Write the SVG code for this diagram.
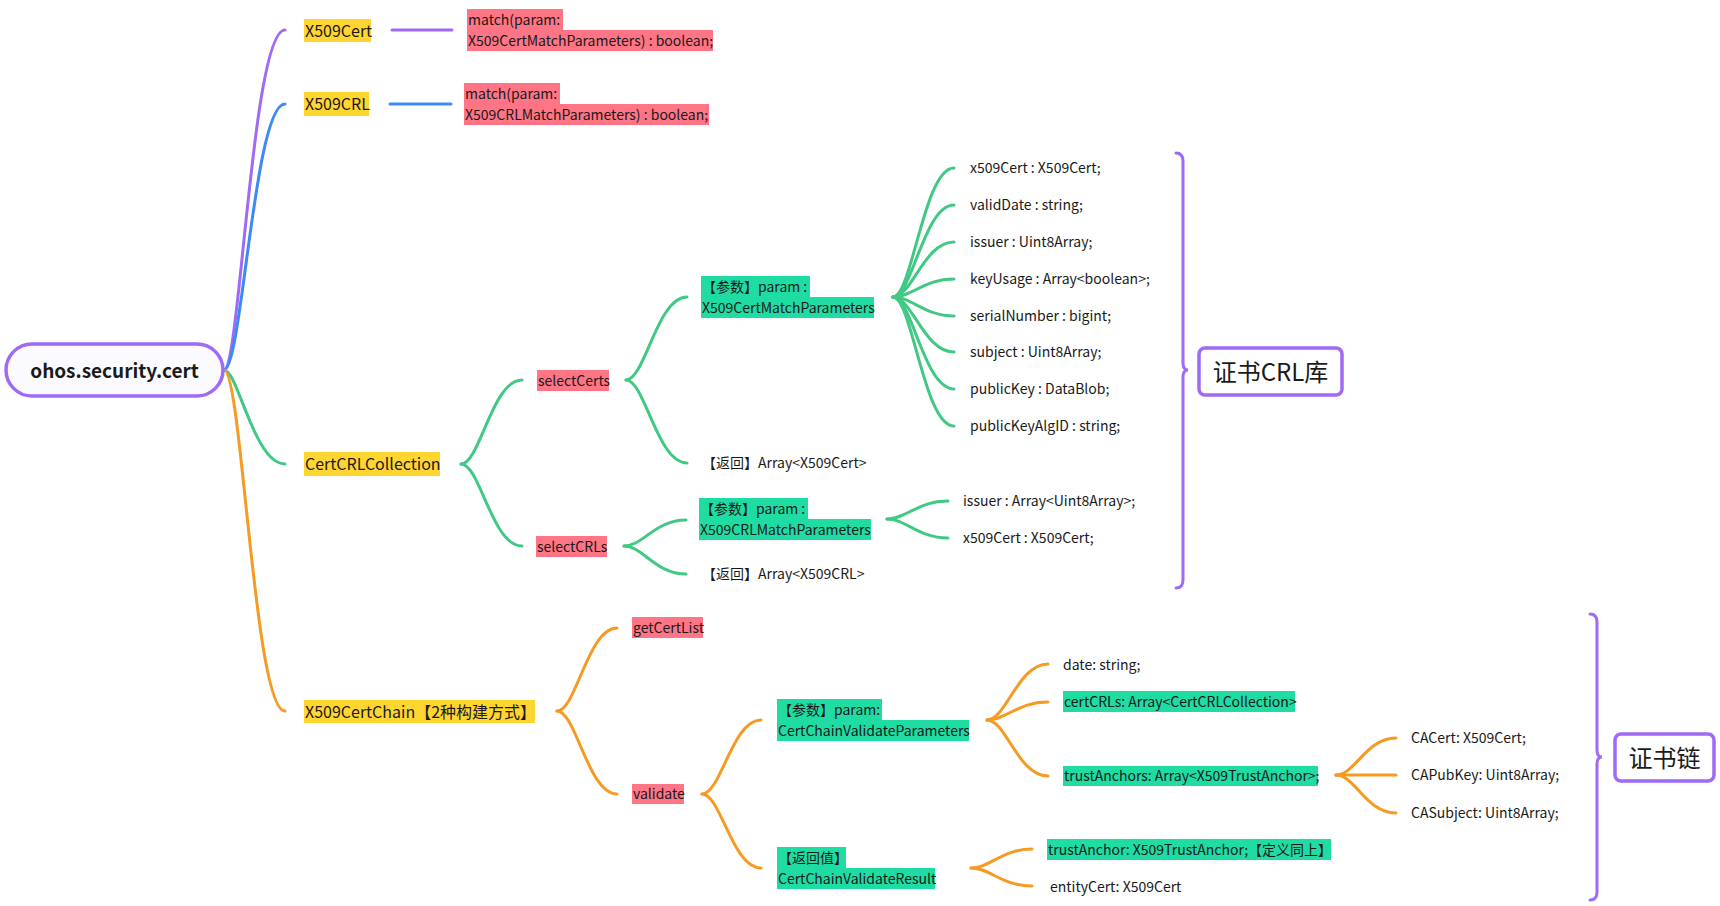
<svg xmlns="http://www.w3.org/2000/svg" width="1720" height="906" viewBox="0 0 1720 906">
<style>
text{font-family:"Noto Sans CJK SC","Noto Sans",sans-serif;fill:#1a1a1a;dominant-baseline:central}
.t1{font-size:16px}
.t2{font-size:14px}
.t3{font-size:14px}
.root{font-size:19px;font-weight:600}
.big{font-size:24px}
.y{fill:#ffd531}
.p{fill:#ff7585}
.g{fill:#1edca2}
.c{fill:none;stroke-width:3;stroke-linecap:round}
.pu{stroke:#9f6af5}
.bl{stroke:#3d8af7}
.gr{stroke:#40c983}
.or{stroke:#f59b23}
.box{fill:#fff;stroke:#9f6af5;stroke-width:3.5}
</style>
<rect width="1720" height="906" fill="#fff"/>
<g id="connectors">
<path class="c pu" d="M224,370 C240,370 252,30 285,30"/>
<path class="c bl" d="M224,370 C242,370 254,104 285,104"/>
<path class="c gr" d="M224,370 C238,370 254,464 285,464"/>
<path class="c or" d="M224,370 C242,370 254,711 285,711"/>
<path class="c pu" d="M392,30 L452,30"/>
<path class="c bl" d="M390,104 L451,104"/>
<path class="c gr" d="M461,464 C480,464 492,380 522,380"/>
<path class="c gr" d="M461,464 C480,464 492,546 522,546"/>
<path class="c gr" d="M626,380 C645,380 657,297 687,297"/>
<path class="c gr" d="M626,380 C645,380 657,463 687,463"/>
<path class="c gr" d="M893,297 C912,297 924,168 954,168"/>
<path class="c gr" d="M893,297 C912,297 924,205 954,205"/>
<path class="c gr" d="M893,297 C912,297 924,242 954,242"/>
<path class="c gr" d="M893,297 C912,297 924,279 954,279"/>
<path class="c gr" d="M893,297 C912,297 924,316 954,316"/>
<path class="c gr" d="M893,297 C912,297 924,352 954,352"/>
<path class="c gr" d="M893,297 C912,297 924,389 954,389"/>
<path class="c gr" d="M893,297 C912,297 924,426 954,426"/>
<path class="c gr" d="M624,546 C643,546 655,520 686,520"/>
<path class="c gr" d="M624,546 C643,546 655,574 686,574"/>
<path class="c gr" d="M887,519 C906,519 918,501 948,501"/>
<path class="c gr" d="M887,519 C906,519 918,538 948,538"/>
<path class="c or" d="M557,711 C576,711 588,628 617,628"/>
<path class="c or" d="M557,711 C576,711 588,794 617,794"/>
<path class="c or" d="M702,794 C721,794 732,720 761,720"/>
<path class="c or" d="M702,794 C721,794 732,868 761,868"/>
<path class="c or" d="M987,720 C1006,720 1018,664 1048,664"/>
<path class="c or" d="M987,720 C1006,720 1018,702 1048,702"/>
<path class="c or" d="M987,720 C1006,720 1018,776 1048,776"/>
<path class="c or" d="M1336,775 C1355,775 1366,738 1396,738"/>
<path class="c or" d="M1336,775 L1396,775"/>
<path class="c or" d="M1336,775 C1355,775 1366,813 1396,813"/>
<path class="c or" d="M971,868 C990,868 1002,849 1032,849"/>
<path class="c or" d="M971,868 C990,868 1002,886 1032,886"/>
<path class="c pu" d="M1176,153 Q1183,153 1183,161 L1183,363 Q1183,370 1188,370 Q1183,370 1183,377 L1183,580 Q1183,588 1176,588"/>
<path class="c pu" d="M1590,614 Q1597,614 1597,622 L1597,750 Q1597,757 1602,757 Q1597,757 1597,764 L1597,892 Q1597,900 1590,900"/>
</g>
<g id="root">
<rect x="6" y="344" width="217" height="52" rx="26" fill="#fbfbff" stroke="#9f6af5" stroke-width="3.5"/>
<text class="root" x="114.5" y="369" text-anchor="middle">ohos.security.cert</text>
</g>
<g id="n-x509cert">
<rect class="y" x="304" y="19" width="67" height="23"/>
<text class="t1" x="305" y="29.5">X509Cert</text>
</g>
<g id="n-x509cert-match">
<rect class="p" x="467" y="9" width="96" height="21"/>
<rect class="p" x="467" y="30" width="246" height="21"/>
<text class="t2" x="468" y="18.5">match(param:</text>
<text class="t2" x="468" y="39.5">X509CertMatchParameters) : boolean;</text>
</g>
<g id="n-x509crl">
<rect class="y" x="304" y="92" width="65" height="24"/>
<text class="t1" x="305" y="103">X509CRL</text>
</g>
<g id="n-x509crl-match">
<rect class="p" x="464" y="83" width="96" height="21"/>
<rect class="p" x="464" y="104" width="245" height="21"/>
<text class="t2" x="465" y="92.5">match(param:</text>
<text class="t2" x="465" y="113.5">X509CRLMatchParameters) : boolean;</text>
</g>
<g id="n-certcrlcollection">
<rect class="y" x="304" y="452" width="136" height="24"/>
<text class="t1" x="305" y="463">CertCRLCollection</text>
</g>
<g id="n-selectcerts">
<rect class="p" x="537" y="370" width="72" height="21"/>
<text class="t2" x="538" y="379.5">selectCerts</text>
</g>
<g id="n-certmatchparam">
<rect class="g" x="701" y="276" width="109" height="21"/>
<rect class="g" x="701" y="297" width="173" height="21"/>
<text class="t2" x="702" y="285.5">【参数】param :</text>
<text class="t2" x="702" y="306.5">X509CertMatchParameters</text>
</g>
<g id="n-certfields">
<text class="t3" x="970" y="167">x509Cert : X509Cert;</text>
<text class="t3" x="970" y="204">validDate : string;</text>
<text class="t3" x="970" y="241">issuer : Uint8Array;</text>
<text class="t3" x="970" y="278">keyUsage : Array&lt;boolean&gt;;</text>
<text class="t3" x="970" y="315">serialNumber : bigint;</text>
<text class="t3" x="970" y="351">subject : Uint8Array;</text>
<text class="t3" x="970" y="388">publicKey : DataBlob;</text>
<text class="t3" x="970" y="425">publicKeyAlgID : string;</text>
</g>
<g id="n-certreturn">
<text class="t2" x="702" y="462">【返回】Array&lt;X509Cert&gt;</text>
</g>
<g id="n-selectcrls">
<rect class="p" x="536" y="536" width="71" height="21"/>
<text class="t2" x="537" y="545.5">selectCRLs</text>
</g>
<g id="n-crlmatchparam">
<rect class="g" x="699" y="498" width="109" height="21"/>
<rect class="g" x="699" y="519" width="172" height="21"/>
<text class="t2" x="700" y="507.5">【参数】param :</text>
<text class="t2" x="700" y="528.5">X509CRLMatchParameters</text>
</g>
<g id="n-crlfields">
<text class="t3" x="963" y="500">issuer : Array&lt;Uint8Array&gt;;</text>
<text class="t3" x="963" y="537">x509Cert : X509Cert;</text>
</g>
<g id="n-crlreturn">
<text class="t2" x="702" y="573">【返回】Array&lt;X509CRL&gt;</text>
</g>
<g id="n-summary-crl">
<rect class="box" x="1199" y="348" width="143" height="47" rx="6"/>
<text class="big" x="1270.5" y="370.5" text-anchor="middle">证书CRL库</text>
</g>
<g id="n-certchain">
<rect class="y" x="304" y="700" width="231" height="23"/>
<text class="t1" x="305" y="710.5">X509CertChain【2种构建方式】</text>
</g>
<g id="n-getcertlist">
<rect class="p" x="632" y="617" width="71" height="21"/>
<text class="t2" x="633" y="626.5">getCertList</text>
</g>
<g id="n-validate">
<rect class="p" x="632" y="784" width="52" height="20"/>
<text class="t2" x="633" y="793">validate</text>
</g>
<g id="n-validateparam">
<rect class="g" x="777" y="699" width="105" height="21"/>
<rect class="g" x="777" y="720" width="192" height="21"/>
<text class="t2" x="778" y="708.5">【参数】param:</text>
<text class="t2" x="778" y="729.5">CertChainValidateParameters</text>
</g>
<g id="n-date">
<text class="t3" x="1063" y="664">date: string;</text>
</g>
<g id="n-certcrls">
<rect class="g" x="1063" y="691" width="232" height="21"/>
<text class="t3" x="1064" y="700.5">certCRLs: Array&lt;CertCRLCollection&gt;</text>
</g>
<g id="n-trustanchors">
<rect class="g" x="1063" y="766" width="255" height="20"/>
<text class="t3" x="1064" y="775">trustAnchors: Array&lt;X509TrustAnchor&gt;;</text>
</g>
<g id="n-cafields">
<text class="t3" x="1411" y="737">CACert: X509Cert;</text>
<text class="t3" x="1411" y="774">CAPubKey: Uint8Array;</text>
<text class="t3" x="1411" y="812">CASubject: Uint8Array;</text>
</g>
<g id="n-validateresult">
<rect class="g" x="777" y="847" width="69" height="21"/>
<rect class="g" x="777" y="868" width="158" height="21"/>
<text class="t2" x="778" y="856.5">【返回值】</text>
<text class="t2" x="778" y="877.5">CertChainValidateResult</text>
</g>
<g id="n-trustanchor">
<rect class="g" x="1047" y="839" width="284" height="21"/>
<text class="t3" x="1048" y="848.5">trustAnchor: X509TrustAnchor;【定义同上】</text>
</g>
<g id="n-entitycert">
<text class="t3" x="1050" y="886">entityCert: X509Cert</text>
</g>
<g id="n-summary-chain">
<rect class="box" x="1615" y="734" width="99" height="47" rx="6"/>
<text class="big" x="1664.5" y="756.5" text-anchor="middle">证书链</text>
</g>
</svg>
